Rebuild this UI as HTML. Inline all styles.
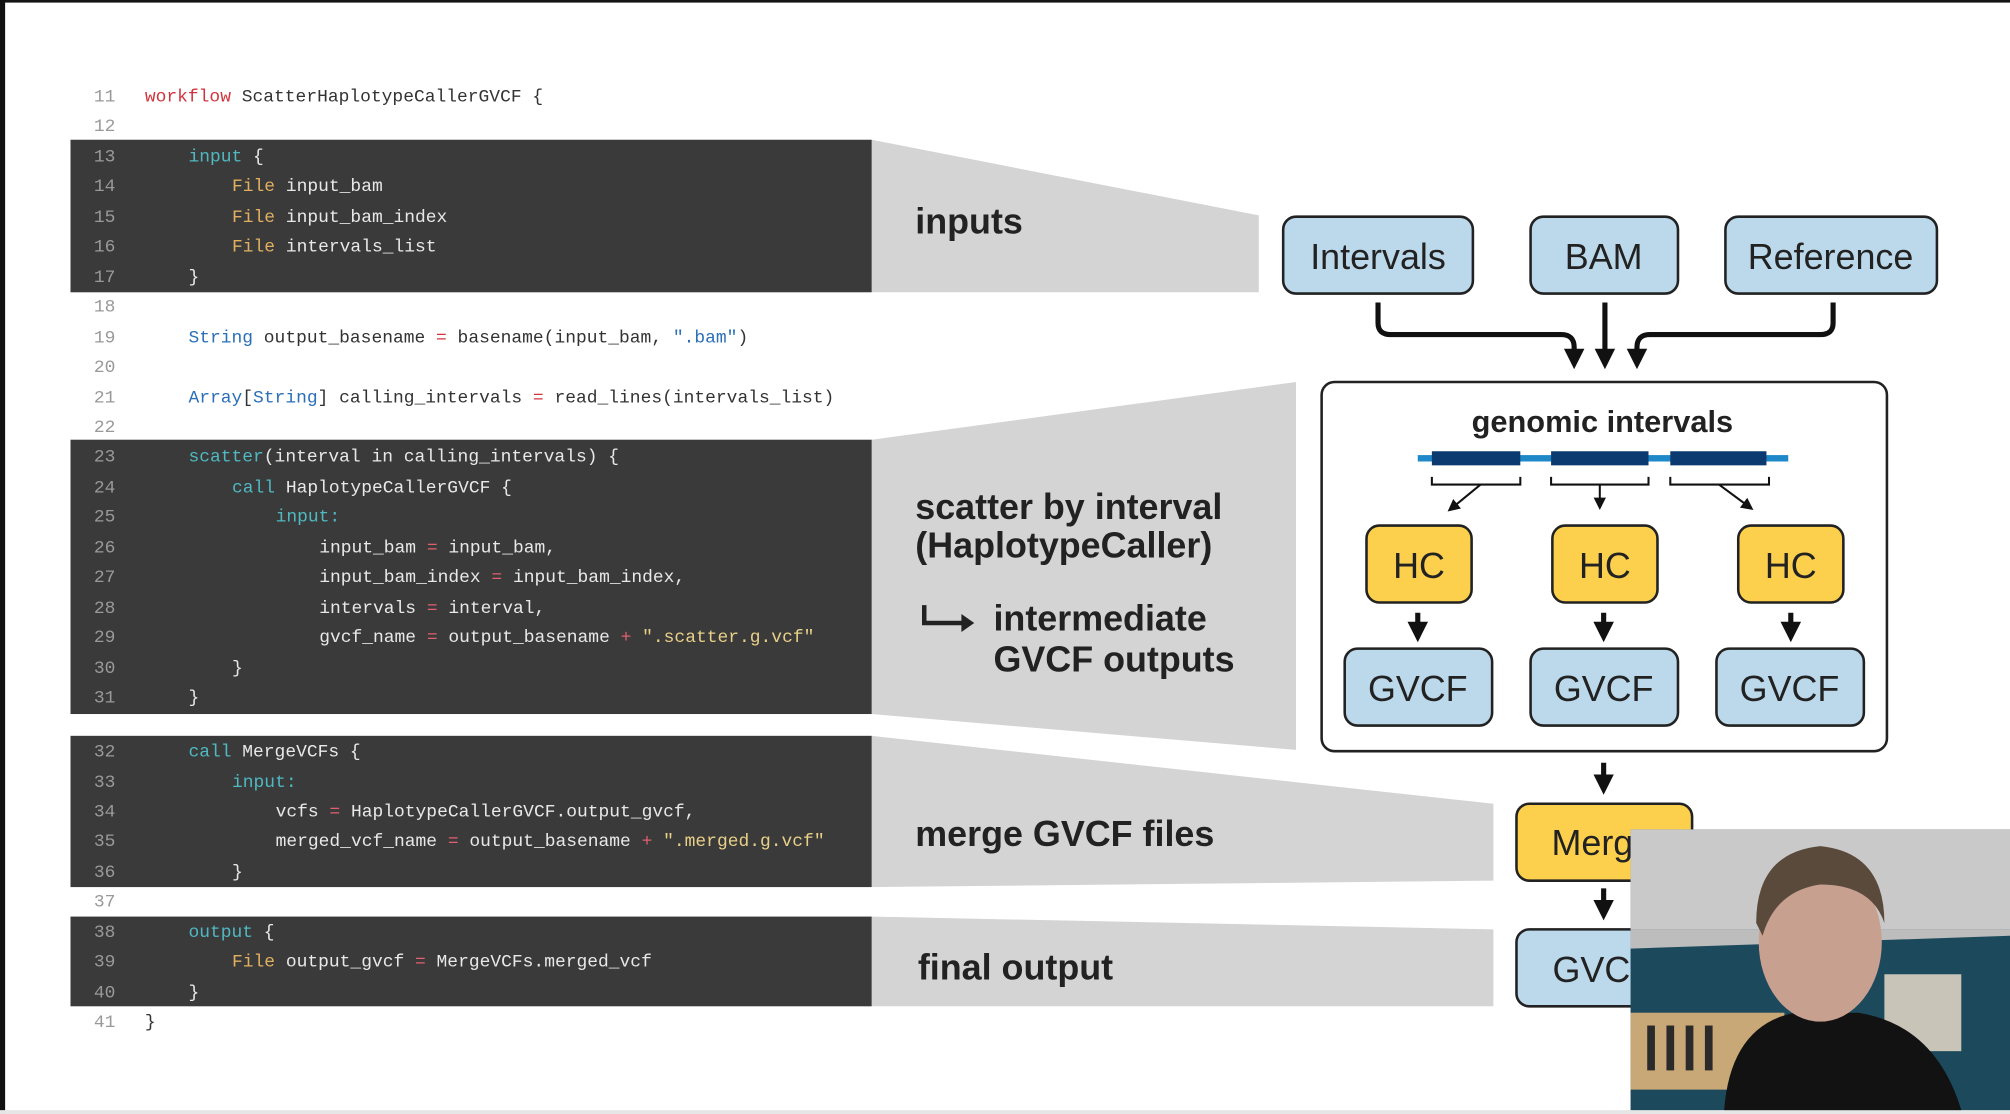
<!DOCTYPE html>
<html><head><meta charset="utf-8"><style>
html,body{margin:0;padding:0;background:#fff;}
svg{display:block;}
.c{font-family:"Liberation Mono",monospace;font-size:14px;fill:#e8e8e8;}
.n{font-family:"Liberation Mono",monospace;font-size:14px;fill:#999;}
.lb{font-family:"Liberation Sans",sans-serif;font-weight:bold;font-size:28px;fill:#222;}
.bx{font-family:"Liberation Sans",sans-serif;font-size:28px;fill:#222;text-anchor:middle;}
</style></head><body>
<svg width="2010" height="1114" viewBox="0 0 1568 869" xmlns="http://www.w3.org/2000/svg">
<defs><marker id="ah" markerWidth="4" markerHeight="4" refX="2" refY="2" orient="auto" markerUnits="strokeWidth"><path d="M0,0 L4,2 L0,4z" fill="#111"/></marker>
<marker id="as" markerWidth="6" markerHeight="6" refX="3" refY="3" orient="auto" markerUnits="strokeWidth"><path d="M0,0 L6,3 L0,6z" fill="#111"/></marker></defs>
<rect width="1568" height="869" fill="#fff"/>
<rect x="0" y="0" width="1568" height="2" fill="#111"/>
<rect x="0" y="0" width="4" height="869" fill="#111"/>
<rect x="0" y="866" width="1568" height="3" fill="#e6e6e6"/>
<!-- trapezoids -->
<g fill="#d4d4d4">
<polygon points="680,109 982,168 982,228 680,228"/>
<polygon points="680,343 1011,298 1011,585 680,557"/>
<polygon points="680,574 1165,627 1165,687 680,692"/>
<polygon points="680,715 1165,725 1165,785 680,785"/>
</g>
<!-- code blocks -->
<g fill="#3a3a3a">
<rect x="55" y="109" width="625" height="119"/>
<rect x="55" y="343" width="625" height="214"/>
<rect x="55" y="574" width="625" height="118"/>
<rect x="55" y="715" width="625" height="70"/>
</g>
<g class="n" text-anchor="end">
<text x="90" y="79">11</text><text x="90" y="102">12</text><text x="90" y="126">13</text><text x="90" y="149">14</text><text x="90" y="173">15</text><text x="90" y="196">16</text><text x="90" y="220">17</text><text x="90" y="243">18</text><text x="90" y="267">19</text><text x="90" y="290">20</text><text x="90" y="314">21</text><text x="90" y="337">22</text><text x="90" y="360">23</text><text x="90" y="384">24</text><text x="90" y="407">25</text><text x="90" y="431">26</text><text x="90" y="454">27</text><text x="90" y="478">28</text><text x="90" y="501">29</text><text x="90" y="525">30</text><text x="90" y="548">31</text><text x="90" y="590">32</text><text x="90" y="614">33</text><text x="90" y="637">34</text><text x="90" y="660">35</text><text x="90" y="684">36</text><text x="90" y="707">37</text><text x="90" y="731">38</text><text x="90" y="754">39</text><text x="90" y="778">40</text><text x="90" y="801">41</text>
</g>
<g class="c" xml:space="preserve">
<text x="113" y="79" style="fill:#333"><tspan fill="#d0343c">workflow</tspan> ScatterHaplotypeCallerGVCF {</text>
<text x="147" y="126"><tspan fill="#4fb8c0">input</tspan> {</text>
<text x="181" y="149"><tspan fill="#e0b060">File</tspan> input_bam</text>
<text x="181" y="173"><tspan fill="#e0b060">File</tspan> input_bam_index</text>
<text x="181" y="196"><tspan fill="#e0b060">File</tspan> intervals_list</text>
<text x="147" y="220">}</text>
<text x="147" y="267" style="fill:#333"><tspan fill="#2a6fb8">String</tspan> output_basename <tspan fill="#d0343c">=</tspan> basename(input_bam, <tspan fill="#2a6fb8">".bam"</tspan>)</text>
<text x="147" y="314" style="fill:#333"><tspan fill="#2a6fb8">Array</tspan>[<tspan fill="#2a6fb8">String</tspan>] calling_intervals <tspan fill="#d0343c">=</tspan> read_lines(intervals_list)</text>
<text x="147" y="360"><tspan fill="#4fb8c0">scatter</tspan>(interval in calling_intervals) {</text>
<text x="181" y="384"><tspan fill="#4fb8c0">call</tspan> HaplotypeCallerGVCF {</text>
<text x="215" y="407" fill="#4fb8c0">input:</text>
<text x="249" y="431">input_bam <tspan fill="#e06070">=</tspan> input_bam,</text>
<text x="249" y="454">input_bam_index <tspan fill="#e06070">=</tspan> input_bam_index,</text>
<text x="249" y="478">intervals <tspan fill="#e06070">=</tspan> interval,</text>
<text x="249" y="501">gvcf_name <tspan fill="#e06070">=</tspan> output_basename <tspan fill="#e06070">+</tspan> <tspan fill="#e8d088">".scatter.g.vcf"</tspan></text>
<text x="181" y="525">}</text>
<text x="147" y="548">}</text>
<text x="147" y="590"><tspan fill="#4fb8c0">call</tspan> MergeVCFs {</text>
<text x="181" y="614" fill="#4fb8c0">input:</text>
<text x="215" y="637">vcfs <tspan fill="#e06070">=</tspan> HaplotypeCallerGVCF.output_gvcf,</text>
<text x="215" y="660">merged_vcf_name <tspan fill="#e06070">=</tspan> output_basename <tspan fill="#e06070">+</tspan> <tspan fill="#e8d088">".merged.g.vcf"</tspan></text>
<text x="181" y="684">}</text>
<text x="147" y="731"><tspan fill="#4fb8c0">output</tspan> {</text>
<text x="181" y="754"><tspan fill="#e0b060">File</tspan> output_gvcf <tspan fill="#e06070">=</tspan> MergeVCFs.merged_vcf</text>
<text x="147" y="778">}</text>
<text x="113" y="801" style="fill:#333">}</text>
</g>
<!-- labels -->
<text class="lb" x="714" y="182">inputs</text>
<text class="lb" x="714" y="405">scatter by interval</text>
<text class="lb" x="714" y="435">(HaplotypeCaller)</text>
<path d="M721,472 V486 H752" stroke="#222" stroke-width="3.5" fill="none"/>
<path d="M750,479 L760,486 L750,493z" fill="#222"/>
<text class="lb" x="775" y="492">intermediate</text>
<text class="lb" x="775" y="524">GVCF outputs</text>
<text class="lb" x="714" y="660">merge GVCF files</text>
<text class="lb" x="716" y="764">final output</text>
<!-- diagram -->
<g stroke="#222" stroke-width="2">
<rect x="1001" y="169" width="148" height="60" rx="10" fill="#bcd9ec"/>
<rect x="1194" y="169" width="115" height="60" rx="10" fill="#bcd9ec"/>
<rect x="1346" y="169" width="165" height="60" rx="10" fill="#bcd9ec"/>
<rect x="1031" y="298" width="441" height="288" rx="10" fill="#fff"/>
<rect x="1066" y="410" width="82" height="60" rx="10" fill="#fcd04c"/>
<rect x="1211" y="410" width="82" height="60" rx="10" fill="#fcd04c"/>
<rect x="1356" y="410" width="82" height="60" rx="10" fill="#fcd04c"/>
<rect x="1049" y="506" width="115" height="60" rx="10" fill="#bcd9ec"/>
<rect x="1194" y="506" width="115" height="60" rx="10" fill="#bcd9ec"/>
<rect x="1339" y="506" width="115" height="60" rx="10" fill="#bcd9ec"/>
<rect x="1183" y="627" width="137" height="60" rx="10" fill="#fcd04c"/>
<rect x="1183" y="725" width="137" height="60" rx="10" fill="#bcd9ec"/>
</g>
<g>
<text class="bx" x="1075" y="210">Intervals</text>
<text class="bx" x="1251" y="210">BAM</text>
<text class="bx" x="1428" y="210">Reference</text>
<text class="bx" x="1107" y="451">HC</text>
<text class="bx" x="1252" y="451">HC</text>
<text class="bx" x="1397" y="451">HC</text>
<text class="bx" x="1106" y="547">GVCF</text>
<text class="bx" x="1251" y="547">GVCF</text>
<text class="bx" x="1396" y="547">GVCF</text>
<text class="bx" x="1250" y="667">Merge</text>
<text class="bx" x="1250" y="766">GVCF</text>
<text class="bx" x="1250" y="337" style="font-size:24px;font-weight:bold">genomic intervals</text>
</g>
<g stroke="#111" stroke-width="4" fill="none" stroke-linejoin="round">
<path d="M1075,236 V252 Q1075,261 1085,261 H1218 Q1228,261 1228,271 V280" marker-end="url(#ah)"/>
<path d="M1252,236 V280" marker-end="url(#ah)"/>
<path d="M1430,236 V252 Q1430,261 1420,261 H1287 Q1277,261 1277,271 V280" marker-end="url(#ah)"/>
<path d="M1106,478 V493" marker-end="url(#ah)"/>
<path d="M1251,478 V493" marker-end="url(#ah)"/>
<path d="M1397,478 V493" marker-end="url(#ah)"/>
<path d="M1251,595 V612" marker-end="url(#ah)"/>
<path d="M1251,693 V710" marker-end="url(#ah)"/>
</g>
<rect x="1106" y="355" width="289" height="5" fill="#1e88c8"/>
<g fill="#0a3a70"><rect x="1117" y="352" width="69" height="11"/><rect x="1210" y="352" width="76" height="11"/><rect x="1303" y="352" width="75" height="11"/></g>
<g stroke="#111" stroke-width="1.6" fill="none">
<path d="M1117,372 V378 H1186 V372"/><path d="M1210,372 V378 H1286 V372"/><path d="M1303,372 V378 H1380 V372"/>
<path d="M1155,378 L1133,396" marker-end="url(#as)"/>
<path d="M1248,378 V393" marker-end="url(#as)"/>
<path d="M1341,378 L1364,395" marker-end="url(#as)"/>
</g>
<!-- webcam -->
<g>
<rect x="1272" y="647" width="296" height="219" fill="#1c4a5c"/>
<rect x="1272" y="647" width="296" height="78" fill="#c9c9c9"/>
<polygon points="1272,725 1568,725 1568,730 1272,740" fill="#bdbdbd"/>
<rect x="1272" y="790" width="120" height="60" fill="#c9a878"/>
<g fill="#2a2a2a"><rect x="1285" y="800" width="6" height="35"/><rect x="1300" y="800" width="6" height="35"/><rect x="1315" y="800" width="6" height="35"/><rect x="1330" y="800" width="6" height="35"/></g>
<rect x="1470" y="760" width="60" height="60" fill="#c8c4b8"/>
<path d="M1345,866 Q1350,800 1400,790 L1450,790 Q1510,800 1530,866z" fill="#121212"/>
<ellipse cx="1420" cy="735" rx="48" ry="62" fill="#c8a090"/>
<path d="M1370,720 Q1370,665 1420,660 Q1470,665 1470,720 Q1460,690 1420,690 Q1385,695 1375,730z" fill="#5a4a3c"/>
</g>
</svg>
</body></html>
